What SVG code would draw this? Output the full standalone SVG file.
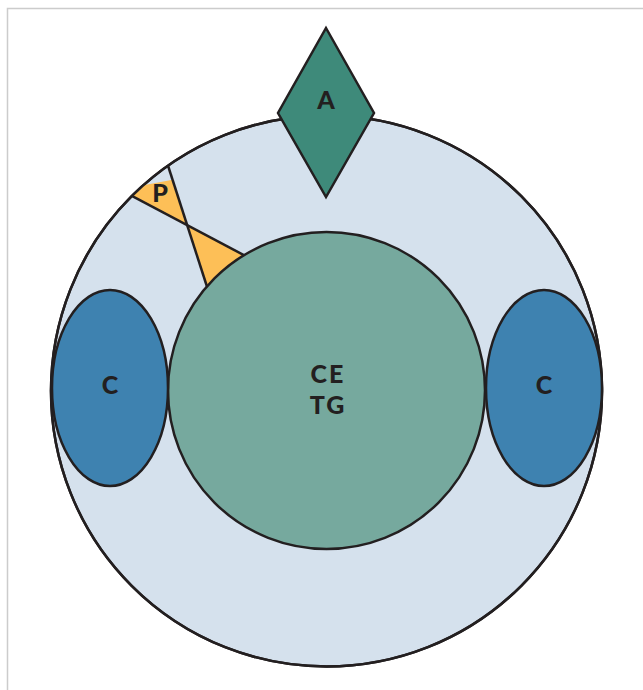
<svg xmlns="http://www.w3.org/2000/svg" width="643" height="690" viewBox="0 0 643 690">
<style>
.s{stroke:#231f20;stroke-width:2.5;stroke-linejoin:miter}
.t{font-family:Lato,"Open Sans","Liberation Sans",sans-serif;font-weight:900;font-size:25px;letter-spacing:2px;fill:#231f20;text-anchor:middle}
</style>
<defs>
<clipPath id="outerClip"><circle cx="326.5" cy="391" r="275.5"/></clipPath>
</defs>
<rect x="7.5" y="8.5" width="700" height="700" fill="#fff" stroke="#cccccc" stroke-width="1.5"/>
<g id="outer">
<circle cx="326.5" cy="391" r="275.5" fill="#d5e1ed" class="s"/>
</g>
<g id="P">
<g clip-path="url(#outerClip)">
<polygon points="120,189.7 172.5,179.8 187.3,225" fill="#fdbf57"/>
<polygon points="187.3,225 255,261 210,296" fill="#fdbf57"/>
<line x1="120" y1="189.7" x2="255" y2="261" class="s"/>
<line x1="162" y1="147" x2="210" y2="296" class="s"/>
</g>
<circle cx="326.5" cy="391" r="275.5" fill="none" class="s"/>
<text x="161" y="202" class="t">P</text>
</g>
<g id="CETG">
<circle cx="326.5" cy="390.5" r="158.5" fill="#76a99e" class="s"/>
<text x="328" y="383" class="t">CE</text>
<text x="328" y="414" class="t">TG</text>
</g>
<g id="C-left">
<ellipse cx="110" cy="388" rx="58" ry="98" fill="#3e82b0" class="s"/>
<text x="111" y="394" class="t">C</text>
</g>
<g id="C-right">
<ellipse cx="544" cy="388" rx="58" ry="98" fill="#3e82b0" class="s"/>
<text x="545" y="394" class="t">C</text>
</g>
<g id="A">
<polygon points="326,28 374,113 326,197 278,113" fill="#3e8a7a" class="s"/>
<text x="327" y="109" class="t">A</text>
</g>
</svg>
